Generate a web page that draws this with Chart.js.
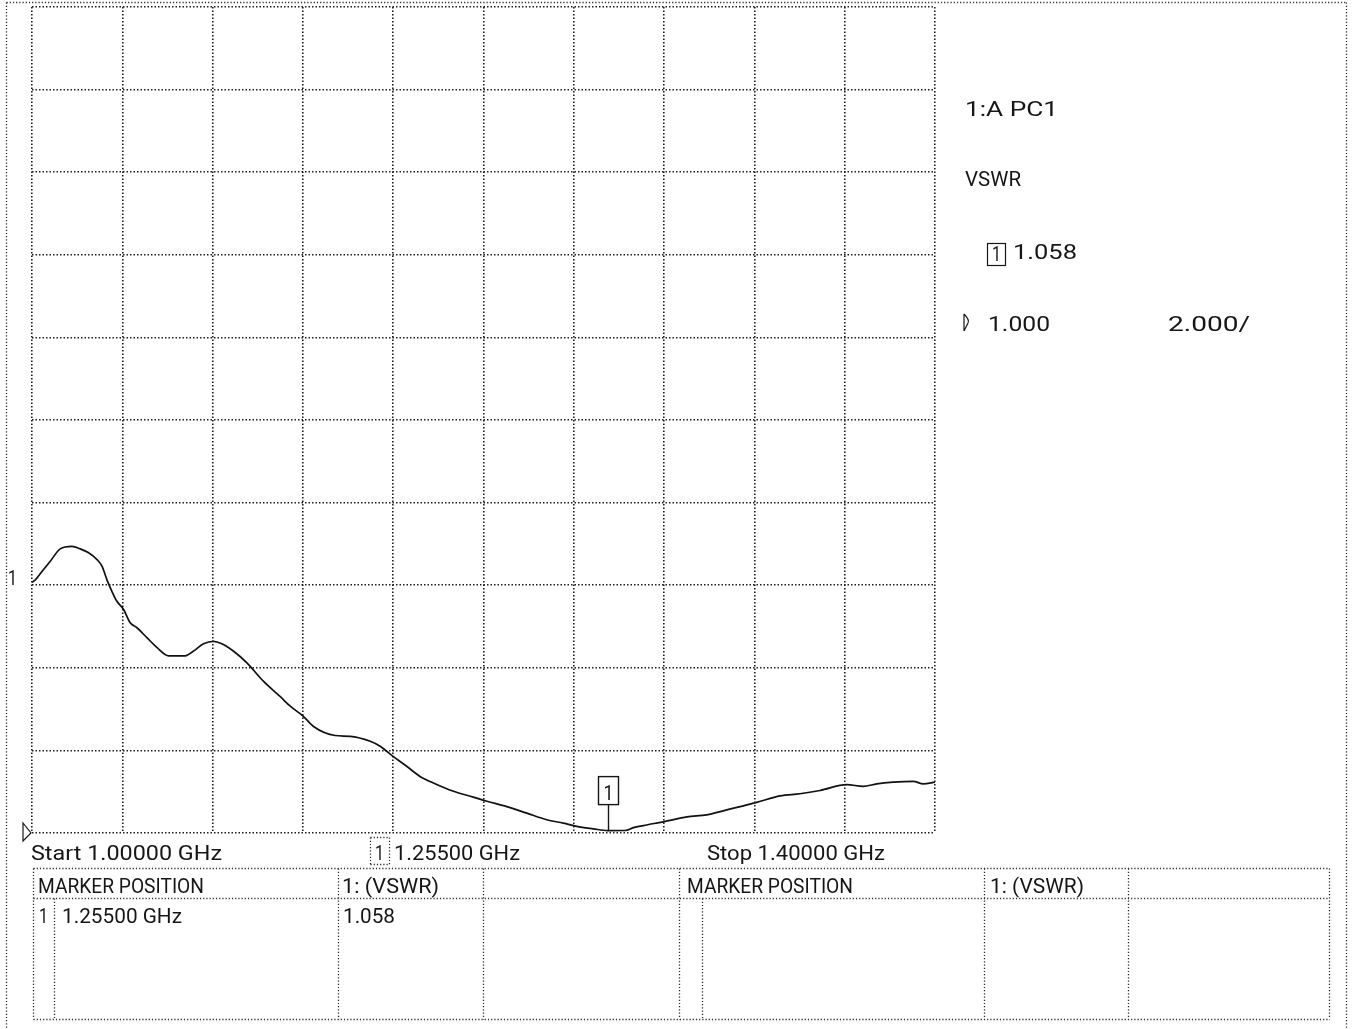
<!DOCTYPE html>
<html>
<head>
<meta charset="utf-8">
<title>VSWR 1.0 – 1.4 GHz</title>
<script src="https://cdn.jsdelivr.net/npm/chart.js@4/dist/chart.umd.min.js"></script>
<style>
  html, body { margin: 0; padding: 0; background: #ffffff; }
  canvas { display: block; }
</style>
</head>
<body>
<canvas id="vna" width="1356" height="1029"></canvas>
<script>
// Sweep frequencies (GHz) and measured VSWR of channel 1
const freqGHz = [
  1.0000, 1.0015, 1.0044, 1.0081, 1.0125, 1.0177, 1.0214, 1.0249, 1.0288, 1.0310,
  1.0332, 1.0354, 1.0376, 1.0406, 1.0435, 1.0465, 1.0509, 1.0554, 1.0605, 1.0679,
  1.0714, 1.0760, 1.0804, 1.0841, 1.0893, 1.0952, 1.1026, 1.1100, 1.1144, 1.1203,
  1.1247, 1.1343, 1.1409, 1.1498, 1.1542, 1.1601, 1.1661, 1.1719, 1.1778, 1.1867,
  1.1955, 1.2015, 1.2103, 1.2192, 1.2280, 1.2354, 1.2413, 1.2487, 1.2550, 1.2628,
  1.2664, 1.2708, 1.2805, 1.2901, 1.2989, 1.3078, 1.3210, 1.3314, 1.3402, 1.3491,
  1.3609, 1.3682, 1.3742, 1.3815, 1.3904, 1.3948, 1.4000
];
const vswr = [
  7.07, 7.13, 7.33, 7.58, 7.88, 7.94, 7.88, 7.79, 7.62, 7.46,
  7.13, 6.85, 6.61, 6.41, 6.09, 5.97, 5.73, 5.49, 5.29, 5.29,
  5.40, 5.58, 5.64, 5.58, 5.40, 5.12, 4.67, 4.30, 4.07, 3.82,
  3.58, 3.36, 3.34, 3.22, 3.10, 2.85, 2.61, 2.37, 2.21, 2.01,
  1.87, 1.77, 1.64, 1.48, 1.32, 1.24, 1.16, 1.10, 1.058, 1.06,
  1.13, 1.18, 1.28, 1.39, 1.44, 1.56, 1.74, 1.90, 1.95, 2.03,
  2.17, 2.13, 2.19, 2.23, 2.25, 2.19, 2.23
];

// Sweep and display settings
const startGHz = 1.0;
const stopGHz = 1.4;
const freqPerDiv = 0.04;
const refValue = 1.0;      // reference level at the bottom line
const scalePerDiv = 2.0;   // VSWR per division
const divisions = 10;

// Marker 1
const markerFreq = 1.255;
const markerValue = 1.058;

// Annotation texts
const channelLabel = "1:A PC1";
const formatLabel = "VSWR";
const refLabel = "1.000";
const scaleLabel = "2.000/";
const startLabel = "Start 1.00000 GHz";
const markerFreqLabel = "1.25500 GHz";
const stopLabel = "Stop 1.40000 GHz";
const tableHeadPos = "MARKER POSITION";
const tableHeadVal = "1: (VSWR)";

const INK = "#161616";
const DOT = "#1e1e1e";

function txt(ctx, s, x, base, w, size) {
  ctx.save();
  ctx.font = "400 " + (size || 20) + "px Roboto, 'DejaVu Sans', sans-serif";
  ctx.fillStyle = INK;
  ctx.textBaseline = "alphabetic";
  const m = ctx.measureText(s).width;
  ctx.translate(x, base);
  ctx.scale(w / m, 1);
  ctx.fillText(s, 0, 0);
  ctx.restore();
}

function dline(ctx, x1, y1, x2, y2, color) {
  ctx.save();
  ctx.strokeStyle = color || "#2a2a2a";
  ctx.lineWidth = 1.3;
  ctx.setLineDash([1.2, 2]);
  ctx.beginPath();
  ctx.moveTo(x1 + 0.5, y1 + 0.5);
  ctx.lineTo(x2 + 0.5, y2 + 0.5);
  ctx.stroke();
  ctx.restore();
}

const annotations = {
  id: "analyzerAnnotations",
  afterDraw(chart) {
    const ctx = chart.ctx;
    const xs = chart.scales.x, ys = chart.scales.y;

    // outer frame
    dline(ctx, 6, 2, 1346, 2);
    dline(ctx, 6, 2, 6, 1029);
    dline(ctx, 1346, 2, 1346, 1029);

    // trace label "1" at the start level
    const y0 = ys.getPixelForValue(vswr[0]);
    txt(ctx, "1", 8, y0 + 3, 9, 20);

    // reference position triangle at the bottom-left
    const yRef = ys.getPixelForValue(refValue);
    ctx.save();
    ctx.strokeStyle = INK;
    ctx.lineWidth = 1.2;
    ctx.beginPath();
    ctx.moveTo(23, yRef - 10);
    ctx.lineTo(31, yRef);
    ctx.lineTo(23, yRef + 8);
    ctx.closePath();
    ctx.stroke();
    ctx.restore();

    // marker 1 on the trace
    const mx = Math.round(xs.getPixelForValue(markerFreq)) + 0.5;
    const my = ys.getPixelForValue(markerValue);
    ctx.save();
    ctx.strokeStyle = INK;
    ctx.lineWidth = 1.4;
    ctx.beginPath();
    ctx.moveTo(mx, my);
    ctx.lineTo(mx, my - 26);
    ctx.stroke();
    ctx.strokeRect(mx - 10, my - 54, 20, 28);
    ctx.restore();
    txt(ctx, "1", mx - 5, my - 31, 10, 21);

    // right-hand readout
    txt(ctx, channelLabel, 965, 116, 93);
    txt(ctx, formatLabel, 965, 186, 56);
    ctx.save();
    ctx.strokeStyle = INK;
    ctx.lineWidth = 1.2;
    ctx.strokeRect(987.5, 243.5, 18, 22);
    ctx.restore();
    txt(ctx, "1", 992, 261, 9, 20);
    txt(ctx, markerValue.toFixed(3), 1013, 259, 64);
    ctx.save();
    ctx.strokeStyle = INK;
    ctx.lineWidth = 1.2;
    ctx.beginPath();
    ctx.moveTo(964, 314);
    ctx.quadraticCurveTo(970, 320, 968, 323);
    ctx.quadraticCurveTo(966, 327, 964, 331);
    ctx.moveTo(964, 314);
    ctx.lineTo(964, 331);
    ctx.stroke();
    ctx.restore();
    txt(ctx, refLabel, 988, 331, 62);
    txt(ctx, scaleLabel, 1168, 331, 82);

    // sweep annotation line
    txt(ctx, startLabel, 31, 860, 191);
    dline(ctx, 370, 837, 389, 837);
    dline(ctx, 370, 864, 389, 864);
    dline(ctx, 370, 837, 370, 864);
    dline(ctx, 389, 837, 389, 864);
    txt(ctx, "1", 375, 860, 9, 21);
    txt(ctx, markerFreqLabel, 394, 860, 126);
    txt(ctx, stopLabel, 707, 860, 178);

    // marker table
    const tTop = 868, tMid = 898, tBot = 1019, tL = 33, tR = 1329;
    [tTop, tMid, tBot].forEach(y => dline(ctx, tL, y, tR, y));
    [tL, 338, 483, 679, 984, 1128, tR].forEach(x => dline(ctx, x, tTop, x, tBot));
    [54, 702].forEach(x => dline(ctx, x, tMid, x, tBot));

    txt(ctx, tableHeadPos, 38, 893, 166);
    txt(ctx, tableHeadVal, 342, 893, 97);
    txt(ctx, tableHeadPos, 687, 893, 166);
    txt(ctx, tableHeadVal, 990, 893, 94);

    txt(ctx, "1", 39, 923, 9, 21);
    txt(ctx, markerFreqLabel, 62, 923, 120);
    txt(ctx, markerValue.toFixed(3), 343, 923, 52);
  }
};

new Chart(document.getElementById("vna"), {
  type: "line",
  data: {
    datasets: [{
      data: freqGHz.map((f, i) => ({ x: f, y: vswr[i] })),
      borderColor: "#111111",
      borderWidth: 1.7,
      pointRadius: 0,
      fill: false,
      cubicInterpolationMode: "monotone"
    }]
  },
  options: {
    responsive: false,
    devicePixelRatio: 1,
    animation: false,
    layout: { padding: { left: 32, top: 7, right: 421, bottom: 196 } },
    plugins: { legend: { display: false }, tooltip: { enabled: false } },
    scales: {
      x: {
        type: "linear",
        min: startGHz,
        max: stopGHz,
        ticks: { display: false, stepSize: freqPerDiv },
        grid: { color: DOT, lineWidth: 1.6, drawTicks: false },
        border: { display: false, dash: [1.5, 2] }
      },
      y: {
        type: "linear",
        min: refValue,
        max: refValue + scalePerDiv * divisions,
        ticks: { display: false, stepSize: scalePerDiv },
        grid: { color: DOT, lineWidth: 1.6, drawTicks: false },
        border: { display: false, dash: [1.5, 2] }
      }
    }
  },
  plugins: [annotations]
});
</script>
</body>
</html>
